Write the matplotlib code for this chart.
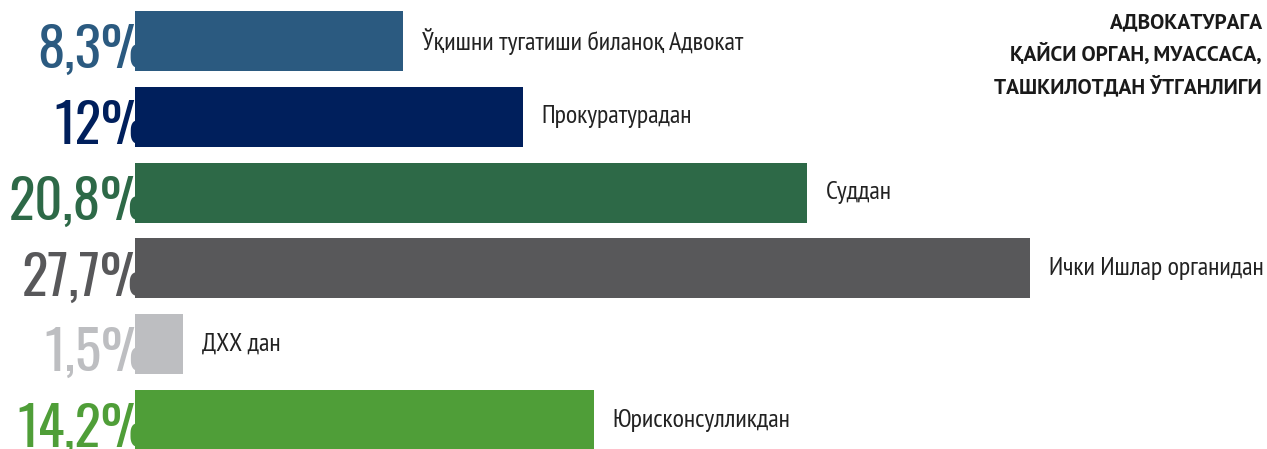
import matplotlib
matplotlib.use("Agg")
import matplotlib.pyplot as plt

categories = ["Ўқишни тугатиши биланоқ Адвокат", "Прокуратурадан", "Суддан",
              "Ички Ишлар органидан", "ДХХ дан", "Юрисконсулликдан"]
values = [8.3, 12.0, 20.8, 27.7, 1.5, 14.2]
pct_labels = ["8,3%", "12%", "20,8%", "27,7%", "1,5%", "14,2%"]
colors = ["#2b5a80", "#001f5c", "#2d6947", "#58585a", "#bdbec1", "#4f9e38"]
title = "АДВОКАТУРАГА\nҚАЙСИ ОРГАН, МУАССАСА,\nТАШКИЛОТДАН ЎТГАНЛИГИ"

W, H = 1267, 449
fig = plt.figure(figsize=(W / 100, H / 100), dpi=100)
ax = fig.add_axes([0, 0, 1, 1])
ax.set_axis_off()

px_per = 32.3          # pixels per percent
x0 = 135               # pixel of zero
ax.set_xlim(-x0 / px_per, (W - x0) / px_per)
c0, step = 41.0, 75.8
ax.set_ylim((H - c0) / step, -c0 / step)

ypos = list(range(len(values)))
ax.barh(ypos, values, height=0.79, color=colors, zorder=3)

for i, (v, lab, pl, c) in enumerate(zip(values, categories, pct_labels, colors)):
    ax.text(v + 19 / px_per, i, lab, ha="left", va="center",
            fontsize=18.7, family="PT Sans Narrow", color="#222222", zorder=4)
    ax.text(15 / px_per, i + 27 / step, pl, ha="right", va="baseline",
            fontsize=39.5, family="Oswald", fontweight="bold", color=c, zorder=2)

fig.text(1262 / W, 1 - 13 / H, title, ha="right", va="top", fontsize=15.3,
         family="PT Sans", fontweight="bold", color="#1a1a1a",
         linespacing=1.58)

fig.savefig("out.png", dpi=100)
